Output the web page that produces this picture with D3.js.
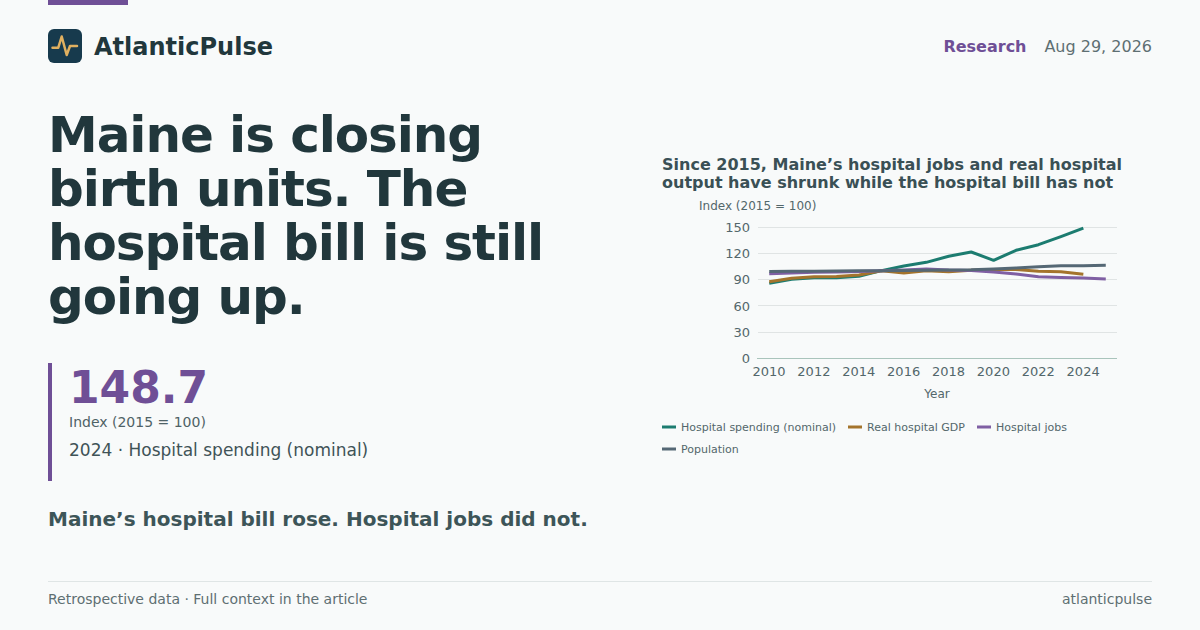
<!DOCTYPE html>
<html><head><meta charset="utf-8">
<script src="https://cdn.jsdelivr.net/npm/d3@7"></script>
<style>
html,body{margin:0;padding:0;background:#f8fafa;width:1200px;height:630px;overflow:hidden}
svg{display:block}
text{font-family:"DejaVu Sans",sans-serif}
</style></head><body><svg id="c" width="1200" height="630"></svg>
<script>
const years=[2010,2011,2012,2013,2014,2015,2016,2017,2018,2019,2020,2021,2022,2023,2024,2025];
const spending=[85.7,90.5,92,92,93.8,100.2,105.5,109.7,116.6,121.5,112,123.4,129.8,139,148.7,null];
const realGdp=[87.6,91.5,93.3,93.5,95.2,100,97.5,100,99,100.8,101.5,101.5,99.5,99,96,null];
const jobs=[96.6,97.5,98.3,98.8,99.3,100,101,102.1,101,100.5,98.7,96.4,93.3,92.5,91.8,90.7];
const population=[99.3,99.4,99.5,99.8,100,100.2,100.4,100.7,101,101.2,102,103.2,104.7,105.8,105.9,106.3];
const seriesNames=["Hospital spending (nominal)","Real hospital GDP","Hospital jobs","Population"];
const seriesColors=["#1c7c70","#a4742c","#7f5fa3","#556875"];
const seriesValues=[spending,realGdp,jobs,population];
const yTicks=[0,30,60,90,120,150];
const xTicks=[2010,2012,2014,2016,2018,2020,2022,2024];
const titleLines=["Maine is closing","birth units. The","hospital bill is still","going up."];
const chartTitle=["Since 2015, Maine’s hospital jobs and real hospital","output have shrunk while the hospital bill has not"];

const svg=d3.select("#c");
function t(x,y,s,size,fill,weight,anchor){
  return svg.append("text").attr("x",x).attr("y",y).text(s).attr("font-size",size).attr("fill",fill)
    .attr("font-weight",weight||400).attr("text-anchor",anchor||"start");
}
const purple="#6f4f96",dark="#21373c";
svg.append("rect").attr("x",48).attr("y",0).attr("width",80).attr("height",5).attr("fill",purple);
svg.append("rect").attr("x",48).attr("y",29).attr("width",34).attr("height",34).attr("rx",6).attr("fill","#173a4d");
svg.append("path").attr("d","M52.5 47.7H58.3L61.7 36.5L66.7 55L70 46H77").attr("fill","none").attr("stroke","#e0b060").attr("stroke-width",2.5).attr("stroke-linejoin","round").attr("stroke-linecap","round");
t(94,55,"AtlanticPulse",24,dark,700);
t(1026.5,52,"Research",16,purple,700,"end");
t(1152,52,"Aug 29, 2026",16,"#5e6f72",400,"end");
titleLines.forEach((s,i)=>t(48,152+i*54,s,50,dark,700).attr("letter-spacing",-1.08));
svg.append("rect").attr("x",48).attr("y",363).attr("width",4).attr("height",118).attr("fill",purple);
t(69,403,"148.7",44,purple,700);
t(69,427,"Index (2015 = 100)",14,"#4f6266");
t(69,456,"2024 · Hospital spending (nominal)",17,"#3f5357");
t(48,526,"Maine’s hospital bill rose. Hospital jobs did not.",20,"#3d5558",700);
svg.append("line").attr("x1",48).attr("x2",1152).attr("y1",581.5).attr("y2",581.5).attr("stroke","#dfe5e5");
t(48,604,"Retrospective data · Full context in the article",14,"#5e6f72");
t(1152,604,"atlanticpulse",14,"#5e6f72",400,"end");

chartTitle.forEach((s,i)=>t(662,170+i*18,s,16,"#3a5055",700));
t(699,210,"Index (2015 = 100)",12,"#53676b");

const x=d3.scalePoint().domain(years).range([758,1117]).padding(0.5);
const y=d3.scaleLinear().domain([0,150]).range([358.5,227]);
const axisY=svg.append("g").attr("transform","translate(757,0)")
  .call(d3.axisLeft(y).tickValues(yTicks).tickSize(0).tickPadding(7));
axisY.select(".domain").remove();
axisY.selectAll("text").attr("font-size",13).attr("fill","#53676b").style("font-family",'"DejaVu Sans",sans-serif');
axisY.selectAll("line").remove();
const snap=v=>Math.floor(v)+0.5;
svg.append("g").selectAll("line").data(yTicks.filter(d=>d>0)).join("line")
  .attr("x1",758).attr("x2",1117).attr("y1",d=>snap(y(d))).attr("y2",d=>snap(y(d))).attr("stroke","#e0e4e4");
svg.append("line").attr("x1",757).attr("x2",1117).attr("y1",snap(y(0))).attr("y2",snap(y(0))).attr("stroke","#a9c4bb");
const axisX=svg.append("g").attr("transform","translate(-0.7,358)")
  .call(d3.axisBottom(x).tickValues(xTicks).tickSize(0).tickPadding(9).tickFormat(d3.format("d")));
axisX.select(".domain").remove();
axisX.selectAll("text").attr("font-size",13).attr("fill","#53676b").style("font-family",'"DejaVu Sans",sans-serif');
t(937,398,"Year",12,"#53676b",400,"middle");

const line=d3.line().defined(d=>d[1]!=null).x(d=>x(d[0])).y(d=>y(d[1]));
seriesValues.forEach((vals,i)=>{
  svg.append("path").attr("d",line(years.map((yr,j)=>[yr,vals[j]]))).attr("fill","none")
    .attr("stroke",seriesColors[i]).attr("stroke-width",3).attr("stroke-linejoin","round");
});
const legendPos=[[662,427],[848,427],[977,427],[662,449]];
seriesNames.forEach((n,i)=>{
  const [lx,ly]=legendPos[i];
  svg.append("line").attr("x1",lx).attr("x2",lx+14).attr("y1",ly).attr("y2",ly).attr("stroke",seriesColors[i]).attr("stroke-width",3);
  t(lx+19,ly+4,n,11,"#53676b");
});
</script></body></html>
